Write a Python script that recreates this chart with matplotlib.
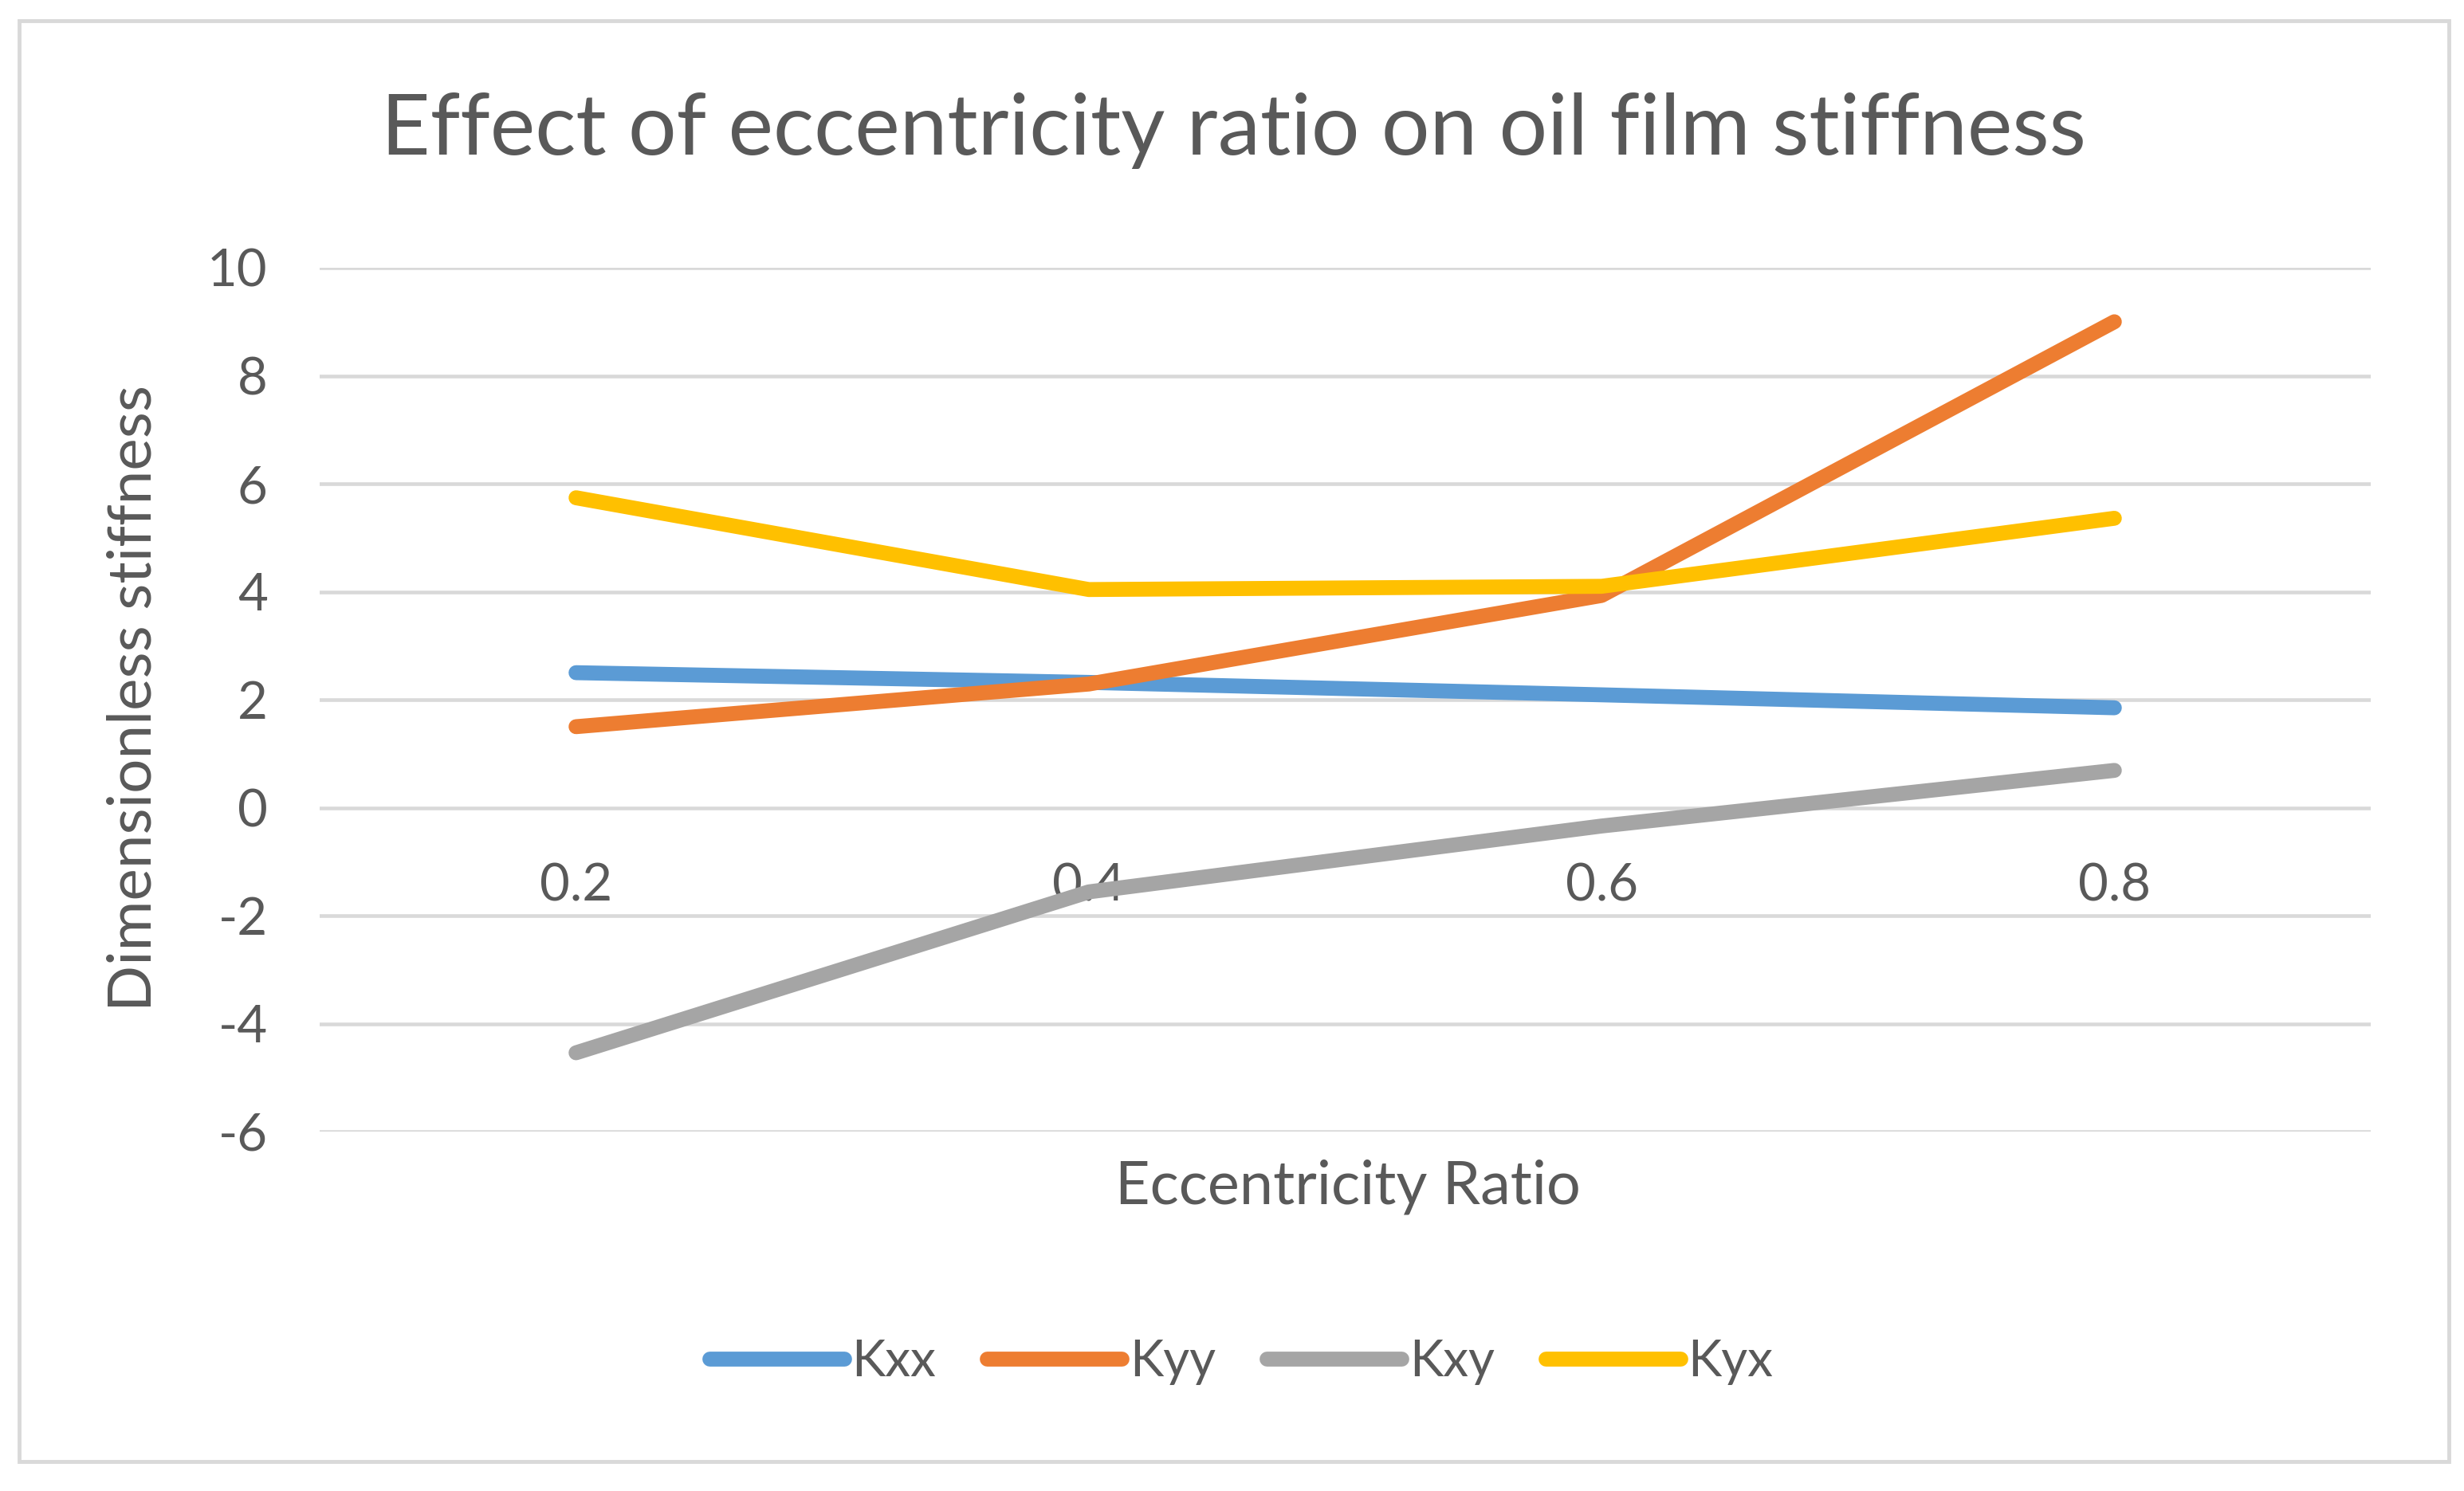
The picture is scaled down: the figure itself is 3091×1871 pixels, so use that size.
import matplotlib
matplotlib.use("Agg")
import matplotlib.pyplot as plt
from matplotlib.patches import Rectangle

categories = ["0.2", "0.4", "0.6", "0.8"]
kxx = [2.50, 2.32, 2.09, 1.85]
kyy = [1.50, 2.29, 3.93, 9.00]
kxy = [-4.54, -1.56, -0.34, 0.69]
kyx = [5.74, 4.04, 4.10, 5.36]
series_names = ["Kxx", "Kyy", "Kxy", "Kyx"]
series_values = [kxx, kyy, kxy, kyx]
series_colors = ["#5B9BD5", "#ED7D31", "#A5A5A5", "#FFC000"]
y_ticks = [-6, -4, -2, 0, 2, 4, 6, 8, 10]

plt.rcParams['font.family'] = ['Lato', 'DejaVu Sans']
W, H = 3091, 1871
fig = plt.figure(figsize=(W / 100, H / 100), dpi=100)
text_color = "#595959"

ax = fig.add_axes([401 / W, 1 - 1420 / H, (2974 - 401) / W, (1420 - 336) / H])
x = list(range(len(categories)))
for name, vals, col in zip(series_names, series_values, series_colors):
    ax.plot(x, vals, color=col, lw=13.5, solid_capstyle='round', solid_joinstyle='round', label=name, zorder=3)

ax.set_xlim(-0.5, len(categories) - 0.5)
ax.set_ylim(-6, 10)
ax.set_yticks(y_ticks)
ax.set_yticklabels([str(v) for v in y_ticks])
ax.set_xticks(x)
ax.set_xticklabels(categories)
ax.grid(axis='y', color="#d9d9d9", lw=3.3, zorder=0)
ax.grid(axis='x', visible=False)
for s in ['top', 'right', 'left']:
    ax.spines[s].set_visible(False)
ax.spines['bottom'].set_position(('data', 0))
ax.spines['bottom'].set_visible(False)
ax.tick_params(axis='x', length=0, pad=50, labelsize=47, labelcolor=text_color)
ax.tick_params(axis='y', length=0, pad=47, labelsize=47, labelcolor=text_color)

fig.text(1547 / W, 1 - 164 / H, "Effect of eccentricity ratio on oil film stiffness",
         ha='center', va='center', fontsize=77, color=text_color)
fig.text(168 / W, 1 - 876 / H, "Dimensionless stiffness", rotation=90,
         ha='center', va='center', fontsize=55, color=text_color)
fig.text(1691 / W, 1 - 1489 / H, "Eccentricity Ratio", ha='center', va='center',
         fontsize=54.5, color=text_color)

handles, labels = ax.get_legend_handles_labels()
leg = fig.legend(handles, labels, loc='center', bbox_to_anchor=(1557 / W, 1 - 1709 / H),
                 ncol=4, frameon=False, fontsize=46, handlelength=2.65, handletextpad=0.15,
                 columnspacing=1.0, labelcolor=text_color)

fig.patches.append(Rectangle((24 / W, 1 - 1834 / H), (3072 - 24) / W, (1834 - 26) / H,
                             transform=fig.transFigure, fill=False, edgecolor="#d9d9d9", lw=3.5))

fig.savefig("out.png", dpi=100)
